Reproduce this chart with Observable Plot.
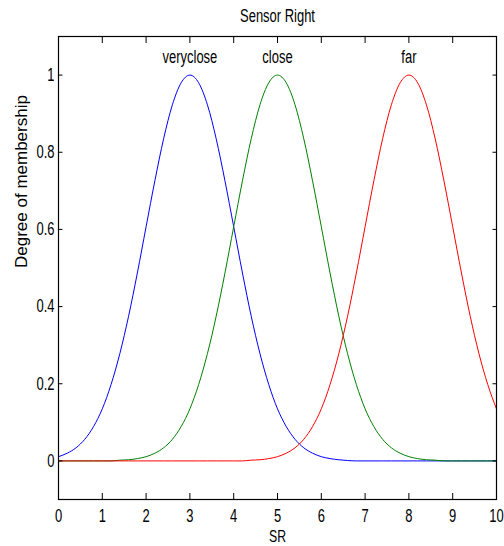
<!DOCTYPE html>
<html>
<head>
<meta charset="utf-8">
<script src="https://cdn.jsdelivr.net/npm/d3@7"></script>
<script src="https://cdn.jsdelivr.net/npm/@observablehq/plot@0.6"></script>
<style>
  html, body { margin: 0; padding: 0; background: #fff; overflow: hidden; }
</style>
</head>
<body>
<div id="chart"></div>
<script>
const chartTitle = "Sensor Right";
const xLabel = "SR";
const yLabel = "Degree of membership";

const xs = [0, 0.2, 0.4, 0.6, 0.8, 1.0, 1.2, 1.4, 1.6, 1.8,
            2.0, 2.2, 2.4, 2.6, 2.8, 3.0, 3.2, 3.4, 3.6, 3.8,
            4.0, 4.2, 4.4, 4.6, 4.8, 5.0, 5.2, 5.4, 5.6, 5.8,
            6.0, 6.2, 6.4, 6.6, 6.8, 7.0, 7.2, 7.4, 7.6, 7.8,
            8.0, 8.2, 8.4, 8.6, 8.8, 9.0, 9.2, 9.4, 9.6, 9.8, 10];

const veryclose = [0.011, 0.020, 0.034, 0.056, 0.089, 0.135, 0.198, 0.278, 0.375, 0.487,
                   0.607, 0.726, 0.835, 0.923, 0.980, 1.000, 0.980, 0.923, 0.835, 0.726,
                   0.607, 0.487, 0.375, 0.278, 0.198, 0.135, 0.089, 0.056, 0.034, 0.020,
                   0.011, 0.006, 0.003, 0.001, 0, 0, 0, 0, 0, 0,
                   0, 0, 0, 0, 0, 0, 0, 0, 0, 0, 0];

const close = [0, 0, 0, 0, 0, 0, 0, 0.002, 0.003, 0.006,
               0.011, 0.020, 0.034, 0.056, 0.089, 0.135, 0.198, 0.278, 0.375, 0.487,
               0.607, 0.726, 0.835, 0.923, 0.980, 1.000, 0.980, 0.923, 0.835, 0.726,
               0.607, 0.487, 0.375, 0.278, 0.198, 0.135, 0.089, 0.056, 0.034, 0.020,
               0.011, 0.006, 0.003, 0.002, 0, 0, 0, 0, 0, 0, 0];

const far = [0, 0, 0, 0, 0, 0, 0, 0, 0, 0,
             0, 0, 0, 0, 0, 0, 0, 0, 0, 0,
             0, 0, 0.002, 0.003, 0.006, 0.011, 0.020, 0.034, 0.056, 0.089,
             0.135, 0.198, 0.278, 0.375, 0.487, 0.607, 0.726, 0.835, 0.923, 0.980,
             1.000, 0.980, 0.923, 0.835, 0.726, 0.607, 0.487, 0.375, 0.278, 0.198, 0.135];

const mfNames = ["veryclose", "close", "far"];
const mfCenters = [3, 5, 8];
const mfColors = ["#0000ff", "#008000", "#ff0000"];
const mfLabelY = [1.045, 1.045, 1.045];

const xTicks = [0, 1, 2, 3, 4, 5, 6, 7, 8, 9, 10];
const yTicks = [0, 0.2, 0.4, 0.6, 0.8, 1];
const xDomain = [0, 10];
const yDomain = [-0.1, 1.1];

const labels = mfNames.map((name, i) => ({name, x: mfCenters[i], y: mfLabelY[i]}));

const TX = 6, TY = 4.5;   // inward tick lengths (px)
const plot = Plot.plot({
  width: 504,
  height: 546,
  marginLeft: 58,
  marginRight: 8,
  marginTop: 36,
  marginBottom: 47,
  style: {fontFamily: "'Liberation Sans', Arial, sans-serif", fontSize: "18px", background: "#fff", color: "#000"},
  x: {domain: xDomain},
  y: {domain: yDomain},
  marks: [
    Plot.line(veryclose, {x: xs, y: veryclose, stroke: mfColors[0], strokeWidth: 1, curve: "monotone-x"}),
    Plot.line(close, {x: xs, y: close, stroke: mfColors[1], strokeWidth: 1, curve: "monotone-x"}),
    Plot.line(far, {x: xs, y: far, stroke: mfColors[2], strokeWidth: 1, curve: "monotone-x"}),
    Plot.text(labels, {x: "x", y: "y", text: "name", fontSize: 18, fill: "#000", lineAnchor: "middle"}),
    Plot.frame({stroke: "#000", strokeWidth: 1.2}),
    Plot.axisX({anchor: "bottom", ticks: xTicks, tickSize: TX, dy: -TX, fill: "none", stroke: "#000", label: null}),
    Plot.axisX({anchor: "top", ticks: xTicks, tickSize: TX, dy: TX, fill: "none", stroke: "#000", label: null}),
    Plot.axisY({anchor: "left", ticks: yTicks, tickSize: TY, dx: TY, fill: "none", stroke: "#000", label: null}),
    Plot.axisY({anchor: "right", ticks: yTicks, tickSize: TY, dx: -TY, fill: "none", stroke: "#000", label: null}),
    Plot.axisX({anchor: "bottom", ticks: xTicks, tickSize: 0, tickPadding: 10, tickFormat: d => String(d), label: null}),
    Plot.axisY({anchor: "left", ticks: yTicks, tickSize: 0, tickPadding: 4, tickFormat: d => String(d), label: null}),
    Plot.text([chartTitle], {frameAnchor: "top", dy: -20, text: d => d, fontSize: 18, fill: "#000", lineAnchor: "middle"}),
    Plot.text([xLabel], {frameAnchor: "bottom", dy: 37, text: d => d, fontSize: 17, fill: "#000", lineAnchor: "middle"}),
    Plot.text([yLabel], {frameAnchor: "left", dx: -37, rotate: -90, text: d => d, fontSize: 17, fill: "#000", lineAnchor: "middle"})
  ]
});

document.getElementById("chart").appendChild(plot);

// condense horizontal texts like the squeezed reference
const SQUEEZE = 0.72;
plot.querySelectorAll("text").forEach(t => {
  const tr = t.getAttribute("transform") || "";
  if (tr.includes("rotate")) return;
  const L = t.getComputedTextLength();
  if (L > 0) {
    t.setAttribute("textLength", (L * SQUEEZE).toFixed(2));
    t.setAttribute("lengthAdjust", "spacingAndGlyphs");
  }
});
</script>
</body>
</html>
